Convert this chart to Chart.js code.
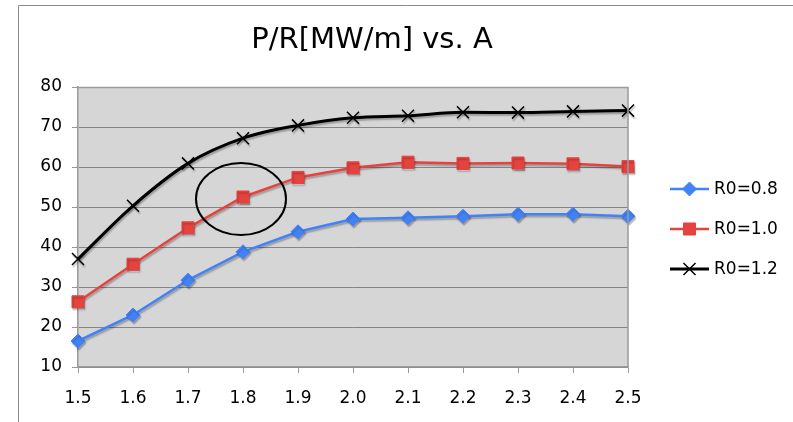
<!DOCTYPE html>
<html>
<head>
<meta charset="utf-8">
<script src="https://cdn.jsdelivr.net/npm/chart.js@4.4.1/dist/chart.umd.min.js"></script>
<style>
  html, body { margin: 0; padding: 0; background: #fff; }
  #wrap { width: 793px; height: 422px; }
</style>
</head>
<body>
<div id="wrap"><canvas id="c" width="793" height="422"></canvas></div>
<script>
// Aspect ratio A on the x axis
const aValues = ['1.5', '1.6', '1.7', '1.8', '1.9', '2.0', '2.1', '2.2', '2.3', '2.4', '2.5'];

// P/R [MW/m] for each R0
const seriesR08 = [16.5, 23.0, 31.7, 38.8, 43.8, 47.0, 47.3, 47.7, 48.2, 48.2, 47.7];
const seriesR10 = [26.3, 35.7, 44.8, 52.5, 57.4, 59.8, 61.2, 60.9, 61.0, 60.8, 60.1];
const seriesR12 = [37.0, 50.3, 60.9, 67.2, 70.4, 72.3, 72.8, 73.7, 73.6, 73.9, 74.1];

const seriesNames = ['R0=0.8', 'R0=1.0', 'R0=1.2'];
const yTicks = [10, 20, 30, 40, 50, 60, 70, 80];
const chartTitle = 'P/R[MW/m] vs. A';

// highlighted region around the R0=1.0 point at A=1.8
const highlightIndex = 3;
const highlightValue = 52;

const FONT = '"DejaVu Sans", Verdana, sans-serif';

// outer frame, plot background, plot border and title
const framePlugin = {
  id: 'frame',
  beforeDraw(chart) {
    const { ctx, chartArea: a } = chart;
    ctx.save();
    ctx.fillStyle = '#d6d6d6';
    ctx.fillRect(a.left, a.top, a.right - a.left, a.bottom - a.top);
    ctx.strokeStyle = '#8a8a8a';
    ctx.lineWidth = 1;
    ctx.beginPath();
    ctx.moveTo(18.5, chart.height + 2);
    ctx.lineTo(18.5, 5.5);
    ctx.lineTo(chart.width + 2, 5.5);
    ctx.stroke();

    ctx.fillStyle = '#000';
    ctx.font = '29px ' + FONT;
    ctx.textAlign = 'center';
    ctx.textBaseline = 'alphabetic';
    ctx.fillText(chartTitle, (a.left + a.right) / 2 + 19, 48);
    ctx.restore();
  },
  afterDatasetsDraw(chart) {
    const { ctx, chartArea: a } = chart;
    ctx.save();
    ctx.strokeStyle = '#9a9a9a';
    ctx.lineWidth = 1.5;
    ctx.beginPath();
    ctx.moveTo(a.left, a.top + 0.5);
    ctx.lineTo(a.right, a.top + 0.5);
    ctx.lineTo(a.right, a.bottom);
    ctx.stroke();
    ctx.restore();
  }
};

// soft drop shadow under each series
const shadowPlugin = {
  id: 'seriesShadow',
  beforeDatasetDraw(chart) {
    const ctx = chart.ctx;
    ctx.save();
    ctx.shadowColor = 'rgba(0,0,0,0.28)';
    ctx.shadowOffsetX = 1;
    ctx.shadowOffsetY = 2;
    ctx.shadowBlur = 1.5;
  },
  afterDatasetDraw(chart) {
    chart.ctx.restore();
  }
};

// ellipse drawn around the highlighted point
const ellipsePlugin = {
  id: 'highlightEllipse',
  afterDatasetsDraw(chart) {
    const { ctx, scales } = chart;
    const cx = scales.x.getPixelForValue(highlightIndex);
    const cy = scales.y.getPixelForValue(highlightValue);
    ctx.save();
    ctx.strokeStyle = '#000';
    ctx.lineWidth = 2;
    ctx.beginPath();
    ctx.ellipse(cx - 2, cy, 45, 36, 0, 0, Math.PI * 2);
    ctx.stroke();
    ctx.restore();
  }
};

// legend: line sample with marker, then label
const legendPlugin = {
  id: 'sideLegend',
  afterDraw(chart) {
    const { ctx, chartArea: a } = chart;
    const x0 = a.right + 42;
    const midY = (a.top + a.bottom) / 2 + 2;
    const rowGap = 40;
    chart.data.datasets.forEach((ds, i) => {
      const y = midY + (i - 1) * rowGap;
      ctx.save();
      ctx.strokeStyle = ds.borderColor;
      ctx.lineWidth = ds.borderWidth;
      ctx.beginPath();
      ctx.moveTo(x0, y);
      ctx.lineTo(x0 + 39, y);
      ctx.stroke();
      ctx.fillStyle = ds.pointBackgroundColor;
      ctx.strokeStyle = ds.pointBorderColor;
      ctx.lineWidth = ds.pointBorderWidth;
      Chart.helpers.drawPoint(ctx, {
        pointStyle: ds.pointStyle,
        radius: ds.pointRadius,
        rotation: 0,
        borderWidth: ds.pointBorderWidth
      }, x0 + 19.5, y);
      ctx.fillStyle = '#000';
      ctx.font = '17px ' + FONT;
      ctx.textBaseline = 'middle';
      ctx.textAlign = 'left';
      ctx.fillText(ds.label, x0 + 44, y + 1);
      ctx.restore();
    });
  }
};

const ctx = document.getElementById('c').getContext('2d');

const blue = '#4282f7';
const red = '#e5433f';

new Chart(ctx, {
  type: 'line',
  data: {
    labels: aValues,
    datasets: [
      {
        label: seriesNames[0],
        data: seriesR08,
        borderColor: blue,
        backgroundColor: blue,
        borderWidth: 2.5,
        pointStyle: 'rectRot',
        pointRadius: 7,
        pointHoverRadius: 7,
        pointBorderWidth: 1,
        pointBackgroundColor: blue,
        pointBorderColor: blue,
        tension: 0
      },
      {
        label: seriesNames[1],
        data: seriesR10,
        borderColor: red,
        backgroundColor: red,
        borderWidth: 2.5,
        pointStyle: 'rect',
        pointRadius: 8.5,
        pointHoverRadius: 8.5,
        pointBorderWidth: 1,
        pointBackgroundColor: red,
        pointBorderColor: red,
        tension: 0
      },
      {
        label: seriesNames[2],
        data: seriesR12,
        borderColor: '#000',
        backgroundColor: '#000',
        borderWidth: 3,
        pointStyle: 'crossRot',
        pointRadius: 8.5,
        pointHoverRadius: 8.5,
        pointBorderWidth: 1.5,
        pointBackgroundColor: '#000',
        pointBorderColor: '#000',
        cubicInterpolationMode: 'monotone'
      }
    ]
  },
  options: {
    responsive: false,
    animation: false,
    events: [],
    layout: { padding: { left: 18, right: 165, top: 87, bottom: 0 } },
    plugins: {
      legend: { display: false },
      tooltip: { enabled: false },
      title: { display: false }
    },
    scales: {
      x: {
        type: 'category',
        offset: false,
        afterFit(s) { s.height = 55; },
        grid: {
          display: true,
          drawOnChartArea: false,
          drawTicks: true,
          tickLength: 6,
          color: '#9a9a9a'
        },
        border: { display: true, color: '#9a9a9a', width: 1.5 },
        ticks: {
          color: '#000',
          font: { family: FONT, size: 17 },
          padding: 15,
          maxRotation: 0,
          autoSkip: false
        }
      },
      y: {
        min: yTicks[0],
        max: yTicks[yTicks.length - 1],
        afterFit(s) { s.width = 60; },
        afterBuildTicks(s) { s.ticks = yTicks.map(v => ({ value: v })); },
        grid: {
          color: '#858585',
          lineWidth: 1,
          tickLength: 6,
          tickColor: '#9a9a9a'
        },
        border: { display: true, color: '#9a9a9a', width: 1.5 },
        ticks: {
          color: '#000',
          font: { family: FONT, size: 17 },
          padding: 10
        }
      }
    }
  },
  plugins: [framePlugin, shadowPlugin, ellipsePlugin, legendPlugin]
});
</script>
</body>
</html>
